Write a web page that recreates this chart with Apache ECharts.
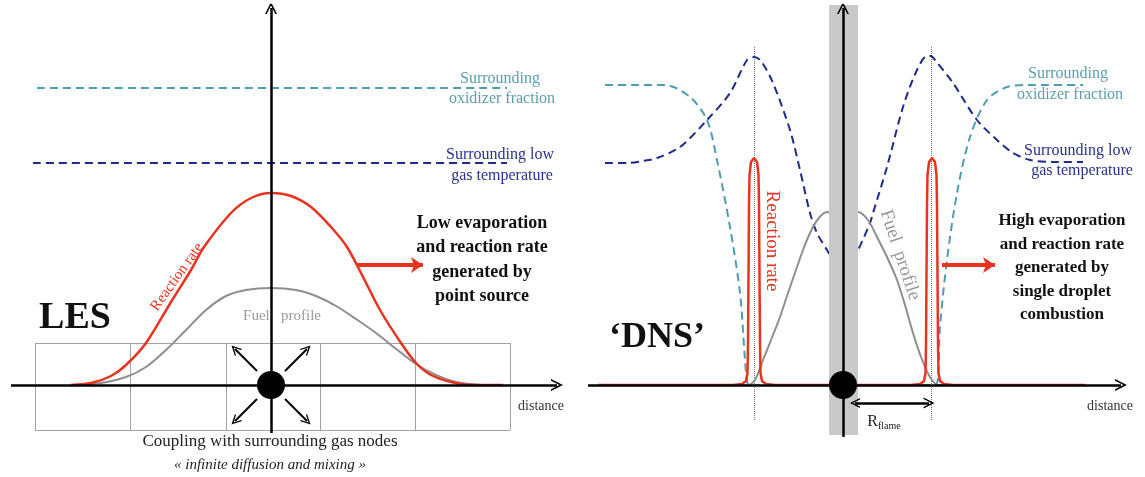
<!DOCTYPE html>
<html>
<head>
<meta charset="utf-8">
<script src="https://cdn.jsdelivr.net/npm/echarts@6/dist/echarts.min.js"></script>
<style>
  html, body { margin: 0; padding: 0; background: #fff; }
  #chart { width: 1145px; height: 477px; }
</style>
</head>
<body>
<div id="chart"></div>
<script>
var lesReaction = [[-200,0],[-180,2],[-160,9],[-145,20],[-125,42],[-100,83],[-80,115],[-67,138],[-40,172],[-20,187],[0,192],[20,189],[40,178],[60,158],[76,138],[90,112],[109,75],[130,42],[145,22],[160,10],[180,3],[200,0],[232,0]];
var lesFuel = [[-195,0],[-170,2],[-145,8],[-125,18],[-105,35],[-85,55],[-65,75],[-45,89],[-25,95],[0,97],[25,95],[45,89],[65,79],[85,66],[105,52],[124,37],[145,21],[165,10],[185,3],[210,0]];
var lesOxidizer = [[-234,297],[236,297]];
var lesTemperature = [[-238,222],[236,222]];

var dnsReaction = [[-245,0],[-110,0],[-101,1],[-97,4],[-95.5,12],[-95,40],[-94.5,110],[-94,180],[-93.5,210],[-92,223],[-89,227],[-86,223],[-84.5,210],[-84,180],[-83.5,110],[-83,40],[-82.5,12],[-81,4],[-77,1],[-68,0],[68,0],[77,1],[81,4],[82.5,12],[83,40],[83.5,110],[84,180],[84.5,210],[86,223],[89,227],[92,223],[93.5,210],[94,180],[94.5,110],[95,40],[95.5,12],[97,4],[101,1],[110,0],[242,0]];
var dnsFuel = [[-110,0],[-95,0],[-88,5],[-80,25],[-72,45],[-63,68],[-55,92],[-46,118],[-40,135],[-33,152],[-25,166],[-16,173],[-8,170],[0,165],[8,170],[15,173],[25,165],[34,148],[44,128],[54,105],[62,80],[70,52],[78,28],[87,8],[95,0],[110,0]];
var dnsOxidizer = [[-238,300],[-210,300],[-178,300],[-153,288],[-136,265],[-126,225],[-113,158],[-103,92],[-98,25],[-96,5],[-94,0],[92,0],[95,8],[97,58],[104,125],[114,192],[127,248],[144,285],[164,298],[184,300],[240,300]];
var dnsTemperature = [[-238,222],[-215,222],[-200,224],[-186,227],[-163,238],[-136,265],[-113,292],[-96,325],[-89,328],[-82,324],[-70,302],[-53,255],[-43,215],[-33,172],[-26,152],[-16,135],[0,110],[15,135],[27,162],[30,172],[44,218],[60,278],[74,315],[84,329],[88,329],[92,325],[110,302],[134,265],[154,245],[170,232],[187,225],[210,223],[240,223]];

var gridCols = [-236,-141,-45,49,144,239];
var gridRows = [-45,0,42];
var flamePos = [-89, 88];

var red = '#e8331f', teal = '#4f9db0', navy = '#1d2a8e', grey = '#8e8e8e';
var serif = '"Liberation Serif", "DejaVu Serif", serif';

var chart = echarts.init(document.getElementById('chart'));

function lineSeries(data, idx, color, width, dashed, z) {
    return {
        type: 'line', xAxisIndex: idx, yAxisIndex: idx, data: data,
        showSymbol: false, symbol: 'none', smooth: 0.3, z: z || 3,
        lineStyle: { color: color, width: width, type: dashed ? [8, 5] : 'solid' },
        silent: true, animation: false
    };
}

function segs(list, idx, color, width, type, symbol, symSize, z) {
    return {
        type: 'lines', coordinateSystem: 'cartesian2d', xAxisIndex: idx, yAxisIndex: idx,
        polyline: false, data: list.map(function (c) { return { coords: c }; }),
        lineStyle: { color: color, width: width, type: type || 'solid', opacity: 1, cap: 'butt' },
        symbol: symbol || 'none', symbolSize: symSize || 10, z: z || 4,
        silent: true, animation: false
    };
}

var chev = 'path://M0,10 L5,0 L10,10 L8.6,10 L5,3 L1.4,10 Z';

// cell edges of the LES mesh
var meshLines = [];
gridRows.forEach(function (r) { if (r !== 0) meshLines.push([[gridCols[0], r], [gridCols[gridCols.length - 1], r]]); });
gridCols.forEach(function (c) { meshLines.push([[c, gridRows[0]], [c, gridRows[gridRows.length - 1]]]); });

var option = {
    backgroundColor: '#fff',
    animation: false,
    grid: [
        { left: 10, top: 5, width: 552, height: 440 },
        { left: 585, top: 5, width: 553, height: 440 }
    ],
    xAxis: [
        { gridIndex: 0, type: 'value', min: -261, max: 291, show: false },
        { gridIndex: 1, type: 'value', min: -258, max: 295, show: false }
    ],
    yAxis: [
        { gridIndex: 0, type: 'value', min: -60, max: 380, show: false },
        { gridIndex: 1, type: 'value', min: -60, max: 380, show: false }
    ],
    series: [
        // LES panel
        segs(meshLines, 0, '#a3a3a3', 1, 'solid', 'none', 0, 1),
        lineSeries(lesOxidizer, 0, teal, 2, true),
        lineSeries(lesTemperature, 0, navy, 2, true),
        lineSeries(lesFuel, 0, grey, 2),
        lineSeries(lesReaction, 0, red, 2.5),
        segs([[[-260, 0], [286, 0]], [[0, -48], [0, 377]]], 0, '#000', 2.5, 'solid', ['none', chev], [11, 12], 8),
        segs([[[-14, 14], [-36, 36]], [[14, 14], [36, 36]], [[-14, -14], [-36, -36]], [[14, -14], [36, -36]]], 0, '#000', 2, 'solid', ['none', chev], [9, 10], 8),
        segs([[[86, 120], [152, 120]]], 0, red, 4, 'solid', ['none', 'arrow'], [12, 12], 8),
        { type: 'scatter', xAxisIndex: 0, yAxisIndex: 0, data: [[0, 0]], symbolSize: 28, itemStyle: { color: '#000', opacity: 1 }, z: 10, silent: true },

        // DNS panel
        segs(flamePos.map(function (p) { return [[p, -35], [p, 338]]; }), 1, '#777', 1, 'dotted', 'none', 0, 2),
        lineSeries(dnsOxidizer, 1, teal, 2, true),
        lineSeries(dnsTemperature, 1, navy, 2, true),
        lineSeries(dnsFuel, 1, grey, 2),
        Object.assign(lineSeries(dnsReaction, 1, red, 2.5), { smooth: false }),
        // droplet band
        segs([[[0.5, -50], [0.5, 380]]], 1, '#c9c9c9', 29, 'solid', 'none', 0, 6),
        segs([[[-255, 0], [278, 0]], [[0, -52], [0, 377]]], 1, '#000', 2.5, 'solid', ['none', chev], [11, 12], 8),
        segs([[[12, -18], [86, -18]]], 1, '#000', 2.5, 'solid', [chev, chev], [10, 11], 8),
        segs([[[99, 120], [152, 120]]], 1, red, 4, 'solid', ['none', 'arrow'], [12, 12], 8),
        { type: 'scatter', xAxisIndex: 1, yAxisIndex: 1, data: [[0, 0]], symbolSize: 28, itemStyle: { color: '#000', opacity: 1 }, z: 10, silent: true }
    ],
    graphic: []
};

function txt(x, y, s, size, color, extra) {
    var el = {
        type: 'text', x: x, y: y, z: 20,
        style: Object.assign({
            text: s, fill: color || '#222', textAlign: 'center', textVerticalAlign: 'middle',
            font: (size || 16) + 'px ' + serif
        }, extra || {})
    };
    return el;
}

var g = option.graphic;
// LES labels
g.push(txt(500, 79, 'Surrounding', 16, '#5b9fb0'));
g.push(txt(502, 99, 'oxidizer fraction', 16, '#5b9fb0'));
g.push(txt(500, 155, 'Surrounding low', 16, '#28328f'));
g.push(txt(502, 176, 'gas temperature', 16, '#28328f'));
['Low evaporation', 'and reaction rate', 'generated by', 'point source'].forEach(function (s, i) {
    g.push(txt(482, 223 + i * 24.5, s, 18, '#111', { font: 'bold 18px ' + serif }));
});
g.push(txt(75, 318, 'LES', 38, '#111', { font: 'bold 38px ' + serif }));
var rr = txt(0, 0, 'Reaction rate', 15, red); rr.x = 177; rr.y = 277; rr.rotation = 0.95; g.push(rr);
g.push(txt(282, 316, 'Fuel   profile', 15, '#9a9a9a'));
g.push(txt(541, 406, 'distance', 14, '#333'));
g.push(txt(270, 442, 'Coupling with surrounding gas nodes', 17, '#222'));
g.push(txt(270, 465, '« infinite diffusion and mixing »', 15, '#222', { font: 'italic 15px ' + serif }));

// DNS labels
g.push(txt(1068, 74, 'Surrounding', 16, '#5b9fb0'));
g.push(txt(1070, 95, 'oxidizer fraction', 16, '#5b9fb0'));
g.push(txt(1078, 151, 'Surrounding low', 16, '#28328f'));
g.push(txt(1082, 171, 'gas temperature', 16, '#28328f'));
['High evaporation', 'and reaction rate', 'generated by', 'single droplet', 'combustion'].forEach(function (s, i) {
    g.push(txt(1062, 221 + i * 23.5, s, 17, '#111', { font: 'bold 17px ' + serif }));
});
g.push(txt(657, 338, '\u2018DNS\u2019', 36, '#111', { font: 'bold 36px ' + serif }));
var rr2 = txt(0, 0, 'Reaction rate', 19, red); rr2.x = 772; rr2.y = 241; rr2.rotation = -Math.PI / 2; g.push(rr2);
var fp2 = txt(0, 0, 'Fuel  profile', 19, '#9a9a9a'); fp2.x = 900; fp2.y = 255; fp2.rotation = -1.25; g.push(fp2);
g.push(txt(1110, 406, 'distance', 14, '#333'));
g.push({
    type: 'text', x: 884, y: 422, z: 20,
    style: {
        text: '{r|R}{s|flame}', textAlign: 'center', textVerticalAlign: 'middle',
        rich: {
            r: { font: '16px ' + serif, fill: '#222' },
            s: { font: '10px ' + serif, fill: '#222', padding: [8, 0, 0, 0] }
        }
    }
});

chart.setOption(option);
</script>
</body>
</html>
